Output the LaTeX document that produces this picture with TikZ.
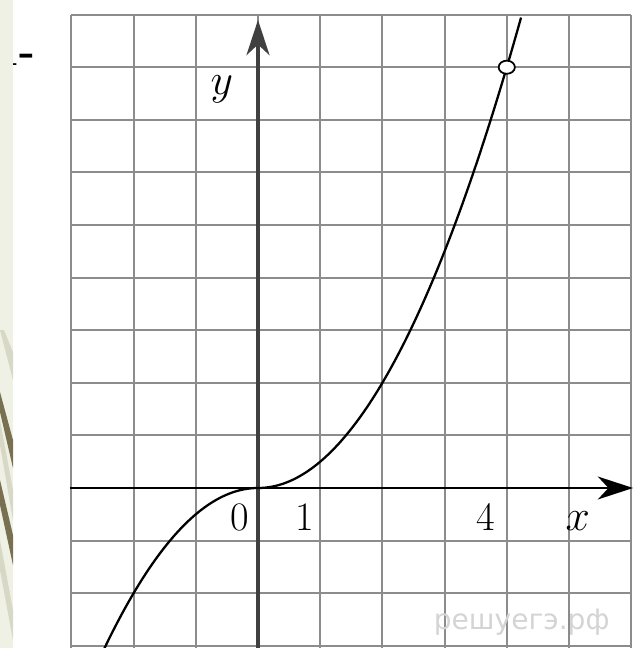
\documentclass[tikz,border=0pt]{standalone}
\usepackage{fontspec}
\newfontfamily\wmfont{DejaVu Sans}
\usetikzlibrary{arrows.meta}

\definecolor{stripbg}{HTML}{EFF1E5}
\definecolor{stripdark}{HTML}{787050}
\definecolor{striplight}{HTML}{D7D8C6}

\begin{document}
\begin{tikzpicture}[x=1.244cm, y=1.052cm,
  gridline/.style={draw=black!45, line width=1.2pt, xstep=1.244cm, ystep=1.052cm},
  axisline/.style={line width=1.5pt, -{Stealth[length=20pt, width=13pt, inset=6pt]}},
  numlabel/.style={font=\fontsize{23}{26}\selectfont, inner sep=0pt}]
\useasboundingbox (-4.148,-3.042) rectangle (6.029,9.278);

% cut off slide text in the corner
\node(frag)[font=\fontsize{24}{26}\selectfont\bfseries, anchor=east, inner sep=0pt] at (-3.57, 8.3) {1-};

% grid
\draw[gridline] (-3,-3.2) grid (6,9);

% axes
\coordinate(xs) at (-3.03, 0);
\coordinate(xe) at (6.03, 0);
\coordinate(ys) at (0, -3.2);
\coordinate(ye) at (0, 8.9);
\draw[axisline] (xs) -- (xe);
\draw[axisline, line width=2.4pt, draw=black!75] (ys) -- (ye);

\node(ylab)[numlabel] at (-0.58, 7.57) {$y$};
\node(xlab)[numlabel] at (5.14, -0.62) {$x$};
\node(zero)[numlabel] at (-0.29, -0.56) {0};
\node(one)[numlabel] at (0.76, -0.56) {1};
\node(four)[numlabel] at (3.67, -0.56) {4};

% graph
\draw[line width=1.3pt] plot[domain=-2.48:4.23, samples=120] (\x, {\x*abs(\x)/2});
\draw[line width=1pt, fill=white] (4,8) ellipse (0.13 and 0.125);

% watermark
\node(wm)[font=\wmfont\fontsize{16}{18}\selectfont, text=black!17] at (4.24, -2.55) {решуегэ.рф};

% left strip of the slide
\begin{scope}[x=0.02cm, y=-0.02cm, shift={(-5.16cm, 9.76cm)}]
\fill[stripbg] (0,0) rectangle (13,648);
\fill[striplight] (0,330) -- (4,330) -- (13,352) -- (13,380) -- cycle;
\fill[striplight] (0,420) -- (0,445) -- (13,520) -- (13,490) -- cycle;
\fill[striplight] (0,540) -- (0,570) -- (13,640) -- (13,610) -- cycle;
\fill[stripdark] (0,392) -- (0,412) -- (13,468) -- (13,440) -- cycle;
\fill[stripdark] (0,480) -- (0,505) -- (13,565) -- (13,535) -- cycle;
\end{scope}
\end{tikzpicture}
\end{document}
